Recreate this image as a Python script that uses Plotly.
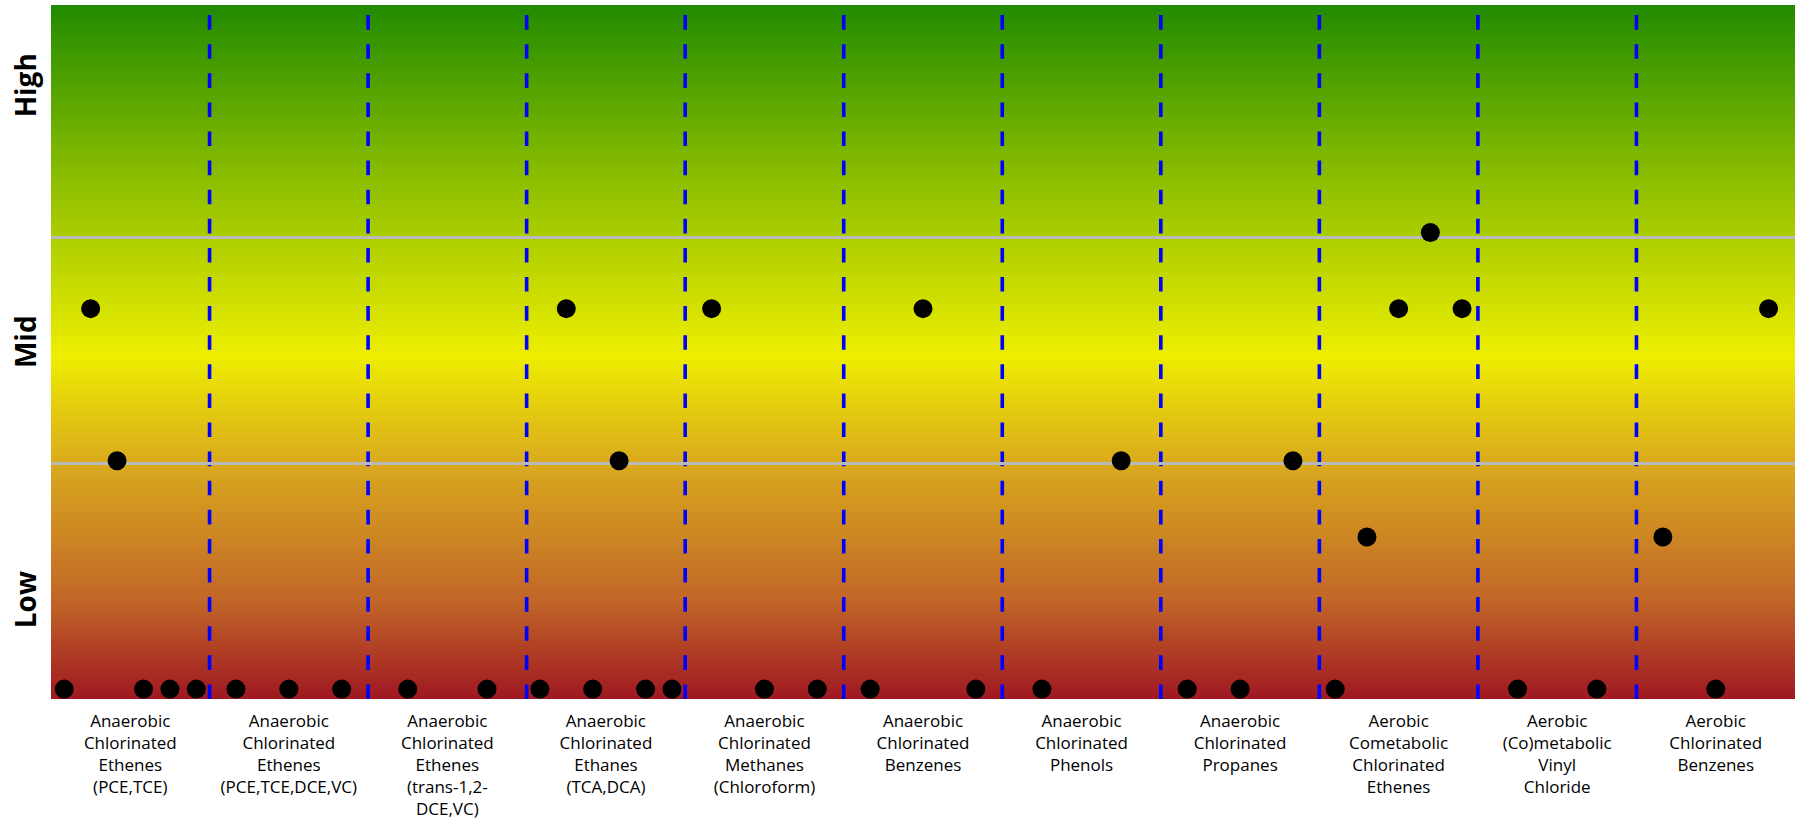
import base64, struct, zlib
import plotly.graph_objects as go

# ---------------- data ----------------
categories = [
    "Anaerobic<br>Chlorinated<br>Ethenes<br>(PCE,TCE)",
    "Anaerobic<br>Chlorinated<br>Ethenes<br>(PCE,TCE,DCE,VC)",
    "Anaerobic<br>Chlorinated<br>Ethenes<br>(trans-1,2-<br>DCE,VC)",
    "Anaerobic<br>Chlorinated<br>Ethanes<br>(TCA,DCA)",
    "Anaerobic<br>Chlorinated<br>Methanes<br>(Chloroform)",
    "Anaerobic<br>Chlorinated<br>Benzenes",
    "Anaerobic<br>Chlorinated<br>Phenols",
    "Anaerobic<br>Chlorinated<br>Propanes",
    "Aerobic<br>Cometabolic<br>Chlorinated<br>Ethenes",
    "Aerobic<br>(Co)metabolic<br>Vinyl<br>Chloride",
    "Aerobic<br>Chlorinated<br>Benzenes",
]
values = [
    [0, 5, 3, 0, 0, 0],
    [0, 0, 0],
    [0, 0],
    [0, 5, 0, 3, 0, 0],
    [5, 0, 0],
    [0, 5, 0],
    [0, 3],
    [0, 0, 3],
    [0, 2, 5, 6, 5],
    [0, 0],
    [2, 0, 5],
]
level_labels = ["Low", "Mid", "High"]
level_ticks = [1.12, 4.51, 7.88]
grid_levels = [2.97, 5.935]
y_range = [-0.13, 8.99]

# ---------------- dodge positions ----------------
xs, ys = [], []
for i, vals in enumerate(values):
    n = len(vals)
    for j, v in enumerate(vals):
        xs.append(i - 0.5 + (j + 0.5) / n)
        ys.append(v)

# ---------------- gradient background image ----------------
stops = [
    (0.00, (34, 139, 0)),
    (0.25, (140, 190, 0)),
    (0.505, (238, 238, 0)),
    (0.66, (218, 170, 30)),
    (0.86, (193, 102, 40)),
    (1.00, (160, 24, 34)),
]

def color_at(f):
    for (f0, c0), (f1, c1) in zip(stops[:-1], stops[1:]):
        if f <= f1:
            t = (f - f0) / (f1 - f0) if f1 > f0 else 0
            return tuple(int(round(a + (b - a) * t)) for a, b in zip(c0, c1))
    return stops[-1][1]

H, W = 700, 4
rows = [color_at(r / (H - 1)) for r in range(H)]
raw = b"".join(b"\x00" + bytes(rgb) * W for rgb in rows)

def chunk(t, d):
    return struct.pack(">I", len(d)) + t + d + struct.pack(">I", zlib.crc32(t + d) & 0xFFFFFFFF)

png = (b"\x89PNG\r\n\x1a\n" + chunk(b"IHDR", struct.pack(">IIBBBBB", W, H, 8, 2, 0, 0, 0))
       + chunk(b"IDAT", zlib.compress(raw)) + chunk(b"IEND", b""))
src = "data:image/png;base64," + base64.b64encode(png).decode()

# ---------------- figure ----------------
fig = go.Figure()
fig.add_trace(go.Scatter(
    x=xs, y=ys, mode="markers",
    marker=dict(size=19, color="black", line=dict(width=0)),
    hoverinfo="skip", showlegend=False,
))

n_cat = len(categories)
shapes = []
for k in range(1, n_cat):
    shapes.append(dict(
        type="line", xref="x", yref="paper", x0=k - 0.5, x1=k - 0.5, y0=0, y1=1,
        line=dict(color="#0000ff", width=3.6, dash="14.6px,14.5px"), layer="below",
    ))

fig.update_layout(
    width=1797, height=823, autosize=False,
    margin=dict(l=51, r=2, t=5, b=124, autoexpand=False),
    paper_bgcolor="white", plot_bgcolor="white",
    font=dict(family="Open Sans", color="black"),
    images=[dict(source=src, xref="paper", yref="paper", x=0, y=1, sizex=1, sizey=1,
                 sizing="stretch", layer="below")],
    shapes=shapes,
    showlegend=False,
)
fig.update_xaxes(
    range=[-0.5, n_cat - 0.5], tickmode="array", tickvals=list(range(n_cat)), ticktext=categories,
    showgrid=False, zeroline=False, showline=False, ticks="", ticklabelstandoff=10,
    automargin=False,
    tickfont=dict(family="Open Sans", size=17, color="black"), tickangle=0,
)
fig.update_yaxes(
    range=y_range, tickmode="array", tickvals=level_ticks, ticktext=level_labels,
    tickangle=-90, showgrid=False, zeroline=False, showline=False, ticks="",
    automargin=False, ticklabelstandoff=8,
    tickfont=dict(family="Open Sans", size=28, color="black", weight="bold"),
    minor=dict(tickmode="array", tickvals=grid_levels, showgrid=True, gridcolor="#b9b9b9",
               gridwidth=3, ticks=""),
)
fig.write_html("out.html", config={"displayModeBar": False},
               post_script="document.body.style.margin='0px';")
